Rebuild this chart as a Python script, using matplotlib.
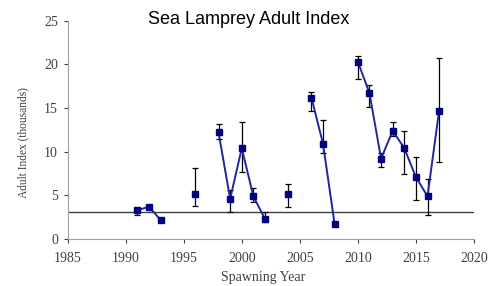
import numpy as np
import matplotlib.pyplot as plt

# spawning years and adult index (thousands), NaN = no estimate
years = np.arange(1991, 2018)
index = [3.3, 3.7, 2.2, np.nan, np.nan, 5.2, np.nan, 12.2, 4.6, 10.4,
         4.9, 2.3, np.nan, 5.2, np.nan, 16.2, 10.9, 1.7, np.nan, 20.3,
         16.7, 9.2, 12.4, 10.4, 7.1, 4.9, 14.7]
lower = [2.8, 3.7, 2.2, np.nan, np.nan, 3.8, np.nan, 11.5, 3.1, 7.7,
         4.2, 1.9, np.nan, 3.7, np.nan, 14.7, 9.8, 1.7, np.nan, 18.3,
         15.1, 8.2, 11.8, 7.5, 4.5, 2.8, 8.8]
upper = [3.6, 3.7, 2.2, np.nan, np.nan, 8.1, np.nan, 13.2, 5.6, 13.4,
         5.8, 3.1, np.nan, 6.3, np.nan, 16.8, 13.6, 1.7, np.nan, 21.0,
         17.6, 9.8, 13.4, 12.4, 9.4, 6.9, 20.7]
target = 3.1

index = np.array(index)
yerr = np.array([index - np.array(lower), np.array(upper) - index])

fig = plt.figure(figsize=(5.01, 2.86), dpi=100)
ax = fig.add_axes([0.135, 0.164, 0.811, 0.764])

ax.axhline(target, color='#404040', lw=1.0, zorder=1)
ax.errorbar(years, index, yerr=yerr, fmt='none', ecolor='black',
            elinewidth=0.9, capsize=2.5, capthick=0.9, zorder=2)
ax.plot(years, index, color='#2424a0', lw=1.4, marker='s', ms=4.5,
        mfc='#000080', mec='#000080', zorder=3)

ax.set_xlim(1985, 2020)
ax.set_ylim(0, 25)
ax.set_xticks(range(1985, 2021, 5))
ax.set_yticks(range(0, 26, 5))

serif = 'Liberation Serif'
for lab in ax.get_xticklabels() + ax.get_yticklabels():
    lab.set_fontfamily(serif)
    lab.set_fontsize(10)
ax.tick_params(colors='#404040', length=3, width=0.8)
ax.tick_params(axis='y', pad=4)
ax.tick_params(axis='x', pad=6)
for s in ['top', 'right']:
    ax.spines[s].set_visible(False)
for s in ['left', 'bottom']:
    ax.spines[s].set_color('#a0a0a0')

ax.set_xlabel('Spawning Year', family=serif, fontsize=10, color='#404040')
ax.set_ylabel('Adult Index (thousands)', family=serif, fontsize=8.3, color='#404040')
ax.xaxis.set_label_coords(0.482, -0.145)
ax.yaxis.set_label_coords(-0.095, 0.44)
fig.text(0.496, 1 - 24 / 286, 'Sea Lamprey Adult Index', family='Liberation Sans',
         fontsize=13, ha='center', va='baseline')

fig.savefig('out.png', dpi=100)
